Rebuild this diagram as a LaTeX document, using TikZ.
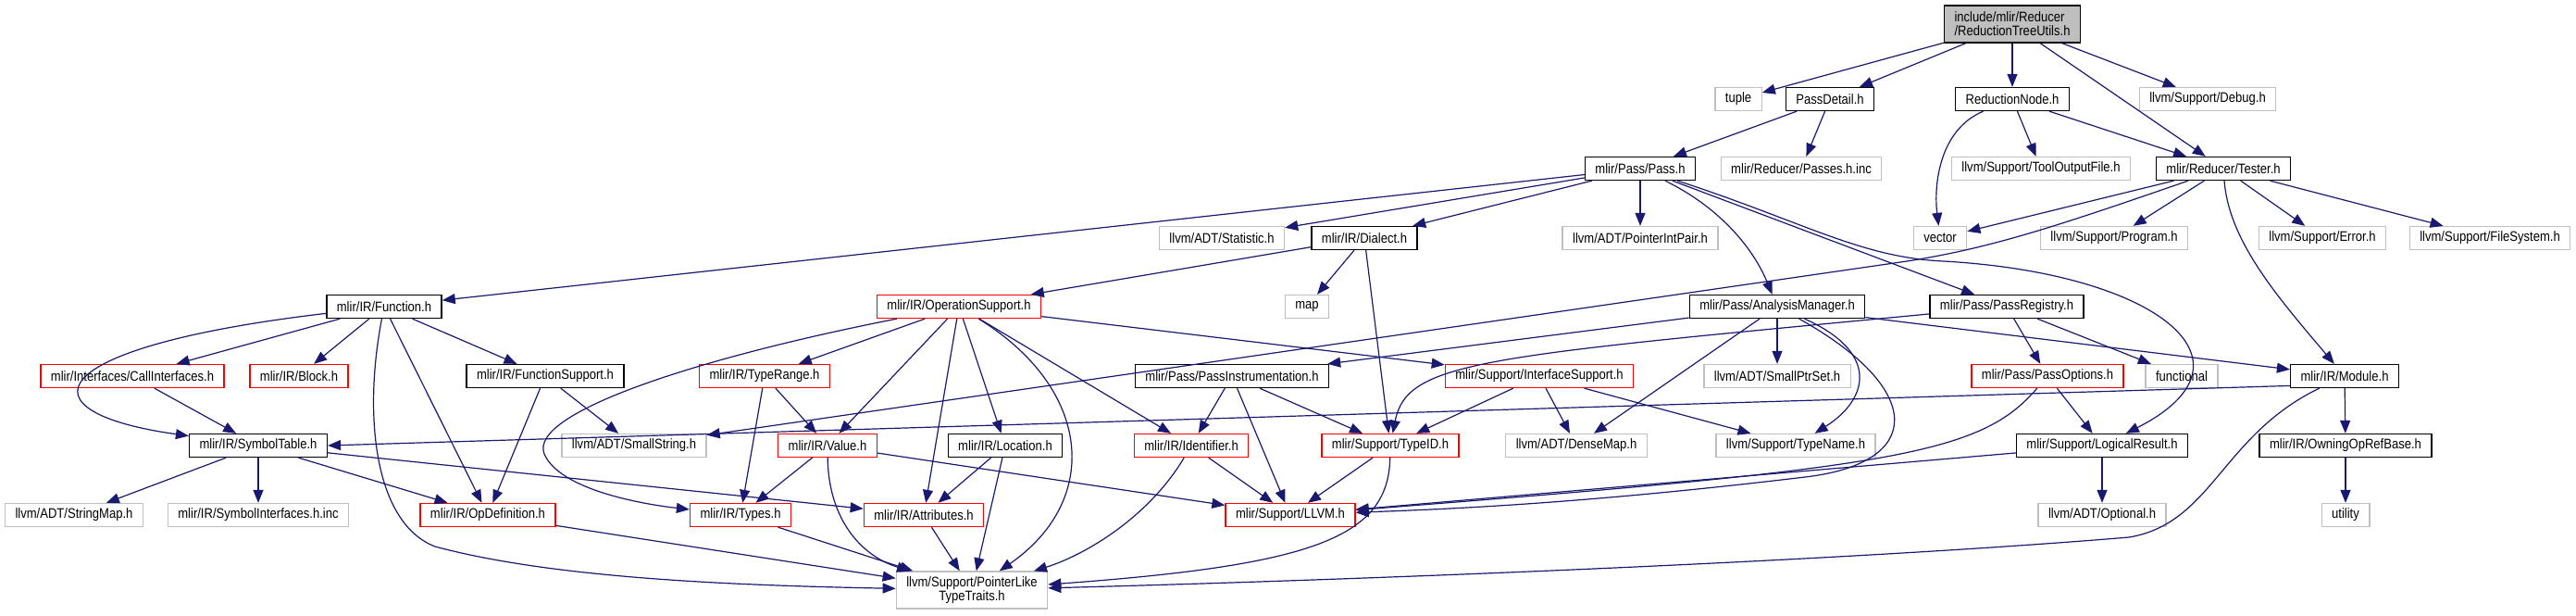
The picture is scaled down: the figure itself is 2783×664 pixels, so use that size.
\documentclass[tikz,border=0pt]{standalone}
\usepackage{fontspec}
\setmainfont{Liberation Sans}[FakeStretch=0.87]
\usepackage{tikz}
\usetikzlibrary{arrows.meta}
\usepackage{xcolor}
\definecolor{edgeblue}{HTML}{191970}
\definecolor{extgray}{HTML}{BFBFBF}
\definecolor{partred}{HTML}{FF0000}

\begin{document}
\begin{tikzpicture}[x=1pt, y=-1pt,
    hdr/.style={draw, line width=1.3pt, fill=white, minimum height=25pt,
                inner xsep=11pt, inner ysep=2pt, font=\fontsize{15}{15}\selectfont},
    doc/.style={hdr, draw=black},
    ext/.style={hdr, draw=extgray},
    part/.style={hdr, draw=partred},
    dep/.style={draw=edgeblue, line width=1.2pt, -{Triangle[length=14pt, width=11pt]}}]
    \path[use as bounding box, fill=white] (0,0) rectangle (2783,664);

    % Root file
    \node[doc, fill=extgray, align=left, minimum height=40pt] (rtu) at (2174,26)
          {include/mlir/Reducer\\/ReductionTreeUtils.h};

    % Row 2
    \node[ext] (tuple) at (1878,107) {tuple};
    \node[doc] (pdet) at (1977,107) {PassDetail.h};
    \node[doc] (rnode) at (2174,107) {ReductionNode.h};
    \node[ext] (dbg) at (2385,107) {llvm/Support/Debug.h};

    % Row 3
    \node[doc] (pass) at (1772,182) {mlir/Pass/Pass.h};
    \node[ext] (pinc) at (1946,182) {mlir/Reducer/Passes.h.inc};
    \node[ext] (tout) at (2205,182) {llvm/Support/ToolOutputFile.h};
    \node[doc] (tester) at (2402,182) {mlir/Reducer/Tester.h};

    % Row 4
    \node[ext] (stat) at (1320,257) {llvm/ADT/Statistic.h};
    \node[doc] (dialect) at (1474,257) {mlir/IR/Dialect.h};
    \node[ext] (pip) at (1772,257) {llvm/ADT/PointerIntPair.h};
    \node[ext] (vector) at (2096,257) {vector};
    \node[ext] (prog) at (2284,257) {llvm/Support/Program.h};
    \node[ext] (err) at (2509,257) {llvm/Support/Error.h};
    \node[ext] (fsys) at (2690,257) {llvm/Support/FileSystem.h};

    % Row 5
    \node[doc] (func) at (415,331) {mlir/IR/Function.h};
    \node[part] (opsup) at (1036,331) {mlir/IR/OperationSupport.h};
    \node[ext] (map) at (1412,331) {map};
    \node[doc] (am) at (1920,331) {mlir/Pass/AnalysisManager.h};
    \node[doc] (preg) at (2168,331) {mlir/Pass/PassRegistry.h};

    % Row 6
    \node[part] (callif) at (143,406) {mlir/Interfaces/CallInterfaces.h};
    \node[part] (block) at (323,406) {mlir/IR/Block.h};
    \node[doc] (fsup) at (589,406) {mlir/IR/FunctionSupport.h};
    \node[part] (trange) at (826,406) {mlir/IR/TypeRange.h};
    \node[doc] (pinstr) at (1331,406) {mlir/Pass/PassInstrumentation.h};
    \node[part] (ifsup) at (1663,406) {mlir/Support/InterfaceSupport.h};
    \node[ext] (sptr) at (1920,406) {llvm/ADT/SmallPtrSet.h};
    \node[part] (popts) at (2212,406) {mlir/Pass/PassOptions.h};
    \node[ext] (functional) at (2357,406) {functional};
    \node[doc] (module) at (2533,406) {mlir/IR/Module.h};

    % Row 7
    \node[doc] (symtab) at (279,481) {mlir/IR/SymbolTable.h};
    \node[ext] (sstr) at (685,481) {llvm/ADT/SmallString.h};
    \node[part] (value) at (894,481) {mlir/IR/Value.h};
    \node[doc] (loc) at (1086,481) {mlir/IR/Location.h};
    \node[part] (ident) at (1287,481) {mlir/IR/Identifier.h};
    \node[part] (typeid) at (1502,481) {mlir/Support/TypeID.h};
    \node[ext] (dmap) at (1703,481) {llvm/ADT/DenseMap.h};
    \node[ext] (tname) at (1940,481) {llvm/Support/TypeName.h};
    \node[doc] (logres) at (2271,481) {mlir/Support/LogicalResult.h};
    \node[doc] (owning) at (2534,481) {mlir/IR/OwningOpRefBase.h};

    % Row 8
    \node[ext] (smap) at (80,556) {llvm/ADT/StringMap.h};
    \node[ext] (syminc) at (279,556) {mlir/IR/SymbolInterfaces.h.inc};
    \node[part] (opdef) at (527,556) {mlir/IR/OpDefinition.h};
    \node[part] (types) at (800,556) {mlir/IR/Types.h};
    \node[part] (attrs) at (998,556) {mlir/IR/Attributes.h};
    \node[part] (llvm) at (1394,556) {mlir/Support/LLVM.h};
    \node[ext] (optional) at (2271,556) {llvm/ADT/Optional.h};
    \node[ext] (utility) at (2534,556) {utility};

    % Row 9
    \node[ext, align=center, minimum height=40pt] (plike) at (1050,637)
          {llvm/Support/PointerLike\\TypeTraits.h};

    % Includes of the root file
    \draw[dep] (rtu) -- (tuple);
    \draw[dep] (rtu) -- (pdet);
    \draw[dep] (rtu) -- (rnode);
    \draw[dep] (rtu) -- (tester);
    \draw[dep] (rtu) -- (dbg);
    \draw[dep] (pdet) -- (pass);
    \draw[dep] (pdet) -- (pinc);
    \draw[dep] (rnode) .. controls (2095,140) and (2089,200) .. (vector);
    \draw[dep] (rnode) -- (tout);
    \draw[dep] (rnode) -- (tester);

    % Pass.h
    \draw[dep] (pass) -- (func);
    \draw[dep] (pass) -- (stat);
    \draw[dep] (pass) -- (dialect);
    \draw[dep] (pass) -- (pip);
    \draw[dep] (pass) .. controls (1860,225) and (1895,270) .. (am);
    \draw[dep] (pass) -- (preg);
    \draw[dep] (pass) .. controls (1950,240) and (2010,278) .. (2100,282)
          .. controls (2330,295) and (2450,390) .. (logres);

    % Tester.h
    \draw[dep] (tester) -- (vector);
    \draw[dep] (tester) .. controls (2220,245) and (2150,268) .. (2060,282) -- (sstr);
    \draw[dep] (tester) -- (prog);
    \draw[dep] (tester) -- (err);
    \draw[dep] (tester) -- (fsys);
    \draw[dep] (tester) .. controls (2408,260) and (2460,320) .. (module);

    % Dialect.h
    \draw[dep] (dialect) -- (map);
    \draw[dep] (dialect) -- (typeid);
    \draw[dep] (dialect) -- (opsup);

    % Function.h
    \draw[dep] (func) .. controls (40,375) and (20,445) .. (symtab);
    \draw[dep] (func) -- (callif);
    \draw[dep] (func) -- (block);
    \draw[dep] (func) -- (opdef);
    \draw[dep] (func) -- (fsup);
    \draw[dep] (func) .. controls (392,450) and (405,565) .. (470,590)
          .. controls (600,625) and (800,632) .. (plike);
    \draw[dep] (callif) -- (symtab);
    \draw[dep] (fsup) -- (opdef);
    \draw[dep] (fsup) -- (sstr);

    % SymbolTable.h
    \draw[dep] (symtab) -- (smap);
    \draw[dep] (symtab) -- (syminc);
    \draw[dep] (symtab) -- (opdef);
    \draw[dep] (symtab) -- (attrs);
    \draw[dep] (opdef) -- (plike);

    % OperationSupport.h
    \draw[dep] (opsup) .. controls (760,385) and (570,445) .. (588,490)
          .. controls (605,530) and (700,545) .. (types);
    \draw[dep] (opsup) -- (trange);
    \draw[dep] (opsup) -- (value);
    \draw[dep] (opsup) -- (attrs);
    \draw[dep] (opsup) -- (loc);
    \draw[dep] (opsup) .. controls (1180,420) and (1190,540) .. (plike);
    \draw[dep] (opsup) -- (ident);
    \draw[dep] (opsup) -- (ifsup);
    \draw[dep] (trange) -- (types);
    \draw[dep] (trange) -- (value);
    \draw[dep] (value) -- (types);
    \draw[dep] (value) .. controls (895,560) and (930,600) .. (plike);
    \draw[dep] (value) -- (llvm);
    \draw[dep] (loc) -- (attrs);
    \draw[dep] (loc) -- (plike);
    \draw[dep] (attrs) -- (plike);
    \draw[dep] (types) -- (plike);
    \draw[dep] (ident) -- (llvm);
    \draw[dep] (ident) .. controls (1240,560) and (1170,600) .. (plike);

    % Pass support headers
    \draw[dep] (pinstr) -- (ident);
    \draw[dep] (pinstr) -- (llvm);
    \draw[dep] (pinstr) -- (typeid);
    \draw[dep] (ifsup) -- (typeid);
    \draw[dep] (ifsup) -- (dmap);
    \draw[dep] (ifsup) -- (tname);
    \draw[dep] (typeid) -- (llvm);
    \draw[dep] (typeid) .. controls (1500,580) and (1420,610) .. (plike);

    % AnalysisManager.h
    \draw[dep] (am) -- (pinstr);
    \draw[dep] (am) -- (dmap);
    \draw[dep] (am) -- (sptr);
    \draw[dep] (am) .. controls (2030,380) and (2020,430) .. (tname);
    \draw[dep] (am) .. controls (2080,420) and (2080,500) .. (1950,515)
          .. controls (1700,545) and (1550,550) .. (llvm);
    \draw[dep] (am) -- (module);

    % PassRegistry.h
    \draw[dep] (preg) .. controls (1600,385) and (1520,390) .. (typeid);
    \draw[dep] (preg) -- (popts);
    \draw[dep] (preg) -- (functional);
    \draw[dep] (popts) -- (logres);
    \draw[dep] (popts) .. controls (2140,490) and (2050,505) .. (llvm);
    \draw[dep] (logres) -- (optional);
    \draw[dep] (logres) -- (llvm);

    % Module.h
    \draw[dep] (module) -- (owning);
    \draw[dep] (module) .. controls (2400,470) and (2390,565) .. (2300,580)
          .. controls (2000,605) and (1500,625) .. (plike);
    \draw[dep] (module.190) -- (symtab.east);
    \draw[dep] (owning) -- (utility);
\end{tikzpicture}
\end{document}
